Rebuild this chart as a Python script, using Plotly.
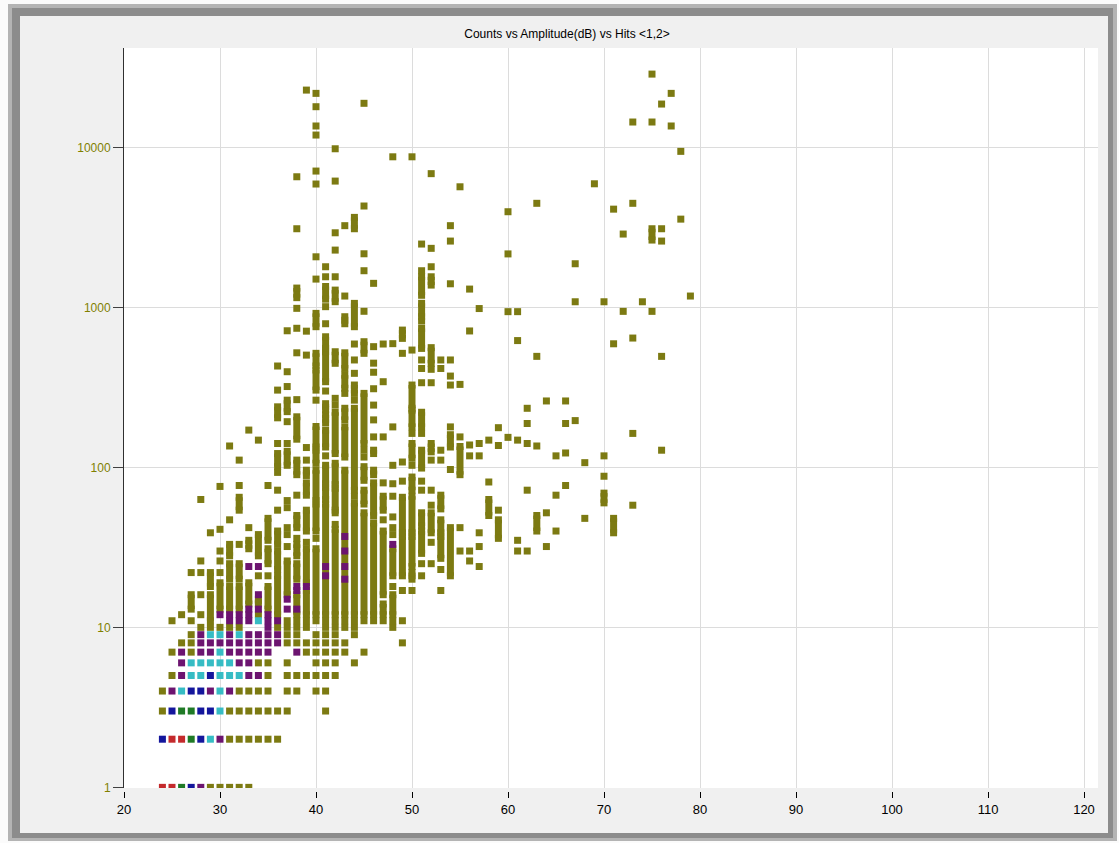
import plotly.graph_objects as go

title_text = "Counts vs Amplitude(dB) vs Hits <1,2>"
x_ticks = [20, 30, 40, 50, 60, 70, 80, 90, 100, 110, 120]
y_ticks = [1, 10, 100, 1000, 10000]
y_tick_labels = ["1", "10", "100", "1000", "10000"]

# Cells hit once: isolated counts per amplitude (dB)
olive_points = {
    24: [3, 4], 25: [5, 7, 11], 26: [8, 12], 27: [7, 8, 9, 11, 22],
    28: [10, 12, 16, 22, 26, 63], 29: [1, 10, 39], 30: [1, 10, 22, 26, 30, 41, 76],
    31: [1, 2, 3, 10, 47, 136], 32: [1, 2, 3, 4, 10, 33, 77, 111],
    33: [1, 2, 3, 4, 42, 171], 34: [2, 3, 4, 6, 12, 21, 148],
    35: [2, 3, 4, 5, 6, 21, 77], 36: [2, 3, 10, 54, 72, 93, 141, 304, 430],
    37: [3, 4, 5, 6, 8, 9, 10, 11, 32, 38, 42, 56, 62, 141, 193, 320, 396, 714],
    38: [4, 5, 8, 9, 10, 11, 36, 67, 265, 520, 740, 986, 3100, 6550],
    39: [5, 7, 8, 10, 11, 34, 111, 133, 503, 710, 22800],
    40: [4, 5, 6, 7, 8, 9, 11, 36, 263, 1502, 2070, 5900, 7110, 11940, 13600, 17950, 21750],
    41: [3, 4, 5, 6, 7, 8, 9, 10, 11, 118, 300, 790, 1010, 1553, 1794],
    42: [5, 6, 7, 8, 9, 10, 11, 44, 52, 245, 270, 1553, 2280, 2925, 6155, 9800],
    43: [7, 8, 10, 11, 290, 1177, 3240],
    44: [6, 9, 10, 11, 66, 263, 387, 469, 590],
    45: [7, 11, 116, 128, 945, 1694, 2162, 4300, 18850],
    46: [11, 122, 128, 155, 198, 245, 310, 393, 448, 568, 1413],
    47: [11, 47, 80, 155, 343, 590],
    48: [10, 11, 18, 38, 42, 49, 66, 79, 103, 179, 593, 8730],
    49: [8, 11, 17, 82, 108, 516],
    50: [17, 103, 163, 541, 8730],
    51: [21, 25, 72, 82, 163, 338, 415, 469, 821, 1694, 2487],
    52: [25, 34, 58, 72, 111, 338, 410, 1794, 2338, 6850],
    53: [17, 23, 111, 128, 415, 469],
    54: [97, 179, 327, 372, 469, 1404, 2596, 3240],
    55: [30, 42, 155, 330, 5670], 56: [26, 30, 118, 138, 712, 1301],
    57: [24, 32, 39, 118, 141, 983], 58: [81, 148], 59: [54, 137, 177],
    60: [154, 940, 2158, 3960], 61: [30, 35, 148, 620, 940],
    62: [30, 72, 141, 188, 234], 63: [136, 494, 4470], 64: [32, 52, 260],
    65: [40, 67, 118], 66: [77, 123, 188, 260], 67: [196, 1084, 1873],
    68: [48, 107], 69: [5920], 70: [88, 118, 1084], 71: [592, 4110],
    72: [944, 2872], 73: [58, 163, 643, 4470, 14400], 74: [1084],
    75: [944, 14400, 28700], 76: [128, 494, 2596, 3100, 18650],
    77: [13600, 21750], 78: [3560, 9440], 79: [1177],
}

# Cells hit once: unbroken stacks of consecutive counts (first, last)
olive_runs = {
    27: [(13, 16)], 29: [(11, 16), (18, 22)], 30: [(13, 19)],
    31: [(13, 18), (20, 25), (28, 33)], 32: [(13, 18), (20, 25), (54, 65)],
    33: [(14, 19), (31, 35)], 34: [(14, 15), (28, 38)],
    35: [(13, 18), (25, 31), (35, 48)],
    36: [(12, 21), (23, 30), (33, 40), (101, 122), (204, 239)],
    37: [(16, 26), (103, 126), (223, 263)],
    38: [(12, 16), (20, 25), (28, 33), (42, 50), (90, 111), (150, 207), (1150, 1320)],
    39: [(12, 17), (19, 31), (40, 54), (67, 80), (89, 96)],
    40: [(12, 31), (40, 59), (62, 96), (106, 128), (134, 180), (304, 406), (430, 516), (757, 917)],
    41: [(12, 59), (63, 75), (79, 103), (134, 171), (190, 213), (229, 250), (343, 528), (554, 655), (1125, 1350)],
    42: [(12, 41), (54, 74), (78, 106), (122, 221), (447, 528), (1085, 1282)],
    43: [(12, 96), (116, 179), (198, 234), (312, 377), (415, 520), (790, 874)],
    44: [(12, 60), (72, 234), (290, 327), (757, 1059), (3100, 3650)],
    45: [(12, 52), (59, 72), (83, 101), (141, 290), (516, 610)],
    46: [(12, 45), (50, 80), (90, 96)],
    47: [(12, 14), (16, 40), (54, 66)],
    48: [(12, 16), (21, 31)],
    49: [(21, 37), (39, 65), (640, 721)],
    50: [(20, 22), (24, 37), (39, 66), (72, 87), (114, 141), (179, 228), (234, 327)],
    51: [(29, 40), (43, 52), (99, 128), (179, 221), (554, 739), (874, 1060), (1190, 1553)],
    52: [(39, 52), (125, 141), (447, 560), (1378, 1553)],
    53: [(27, 37), (39, 47), (55, 67)],
    54: [(21, 42), (134, 160)], 55: [(90, 135)], 58: [(50, 63)], 59: [(36, 47)],
    63: [(40, 50)], 70: [(60, 69)], 71: [(39, 48)], 75: [(2634, 3100)],
}

# Cells with more hits, from 2 hits up to the most-hit cells
purple_points = {
    25: [4], 26: [5, 6, 7], 28: [1, 7, 8, 9], 29: [4, 7, 8], 30: [2, 8, 12],
    31: [4, 7, 8, 9, 11, 12], 32: [6, 7, 8, 11, 12],
    33: [5, 6, 7, 8, 9, 11, 12, 13, 24], 34: [5, 7, 8, 9, 13, 16, 24],
    35: [7, 8, 9, 10, 11, 12], 36: [8, 9, 11], 37: [13, 15],
    38: [7, 13, 17, 18], 39: [18], 41: [21, 24], 43: [20, 24, 30, 37], 48: [33],
}
cyan_points = {
    26: [4], 27: [5, 6], 28: [5, 6], 29: [2, 6, 9], 30: [3, 4, 5, 6, 7, 9],
    31: [5, 6], 32: [5, 9], 34: [11],
}
blue_points = {24: [2], 25: [3], 27: [1, 4], 28: [2, 3, 4], 29: [3, 5]}
green_points = {26: [1, 3], 27: [2, 3]}
red_points = {24: [1], 25: [1, 2], 26: [2]}

hit_colors = {
    "olive": "#7c7a12",
    "purple": "#6c1470",
    "cyan": "#36bcc4",
    "blue": "#14169c",
    "green": "#1f7a26",
    "red": "#c42a2c",
}

# Pixel layout of the window and the plotting area
W, H = 1119, 843
PL, PR, PT, PB = 124, 1098, 48, 800      # margins box
AX_BOTTOM = 788                           # bottom edge of the plotting area
Y_DOMAIN0 = (PB - AX_BOTTOM) / (PB - PT)


def fx(xp):
    return (xp - PL) / (PR - PL)


def fy(yp):
    return (PB - yp) / (PB - PT)


fig = go.Figure()


def add_cells(points, runs, color):
    lx, ly, mx, my = [], [], [], []
    for amp, spans in runs.items():
        for lo, hi in spans:
            lx += [amp, amp, None]
            ly += [lo, hi, None]
            mx += [amp, amp]
            my += [lo, hi]
    for amp, counts in points.items():
        for c in counts:
            mx.append(amp)
            my.append(c)
    if lx:
        fig.add_trace(go.Scatter(x=lx, y=ly, mode="lines",
                                 line=dict(color=color, width=7),
                                 hoverinfo="skip", showlegend=False))
    fig.add_trace(go.Scatter(x=mx, y=my, mode="markers",
                             marker=dict(symbol="square", size=7, color=color,
                                         line=dict(width=0)),
                             showlegend=False))


add_cells(olive_points, olive_runs, hit_colors["olive"])
add_cells(purple_points, {}, hit_colors["purple"])
add_cells(cyan_points, {}, hit_colors["cyan"])
add_cells(blue_points, {}, hit_colors["blue"])
add_cells(green_points, {}, hit_colors["green"])
add_cells(red_points, {}, hit_colors["red"])

x_max = 20 + (PR - 124) / 9.6
grid_col = "#dcdcdc"

# window frame and plotting area, drawn underneath the grid
shapes = [
    dict(type="rect", xref="paper", yref="paper", x0=fx(0), x1=fx(W), y0=fy(H), y1=fy(0),
         fillcolor="#fbfbfb", line=dict(width=0), layer="below"),
    dict(type="rect", xref="paper", yref="paper", x0=fx(8), x1=fx(1117), y0=fy(841), y1=fy(4),
         fillcolor="#b4b4b4", line=dict(width=0), layer="below"),
    dict(type="rect", xref="paper", yref="paper", x0=fx(12), x1=fx(1113), y0=fy(838), y1=fy(8),
         fillcolor="#8c8c8c", line=dict(width=0), layer="below"),
    dict(type="rect", xref="paper", yref="paper", x0=fx(20), x1=fx(1108), y0=fy(833), y1=fy(16),
         fillcolor="#f0f0f0", line=dict(width=0), layer="below"),
    dict(type="rect", xref="paper", yref="paper", x0=fx(124), x1=fx(PR), y0=fy(AX_BOTTOM), y1=fy(PT),
         fillcolor="#ffffff", line=dict(width=0), layer="below"),
]

fig.update_layout(
    width=W, height=H,
    margin=dict(l=PL, r=W - PR, t=PT, b=H - PB, pad=0),
    paper_bgcolor="#ffffff",
    plot_bgcolor="#ffffff",
    font=dict(family="Liberation Sans, Arial, sans-serif", color="#000000"),
    title=dict(text=title_text, x=567 / W, xanchor="center", y=1 - 34 / H, yanchor="middle",
               font=dict(size=12, color="#000000")),
    showlegend=False,
    shapes=shapes,
    xaxis=dict(range=[20, x_max], tickvals=x_ticks, showticklabels=False, ticks="",
               showgrid=True, gridcolor=grid_col, gridwidth=1, zeroline=False,
               showline=False, anchor="y"),
    xaxis2=dict(range=[20, x_max], overlaying="x", anchor="free", position=fy(791),
                tickvals=x_ticks, ticktext=[str(v) for v in x_ticks], ticks="outside",
                ticklen=6, tickwidth=1, tickcolor="#000000", showgrid=False, zeroline=False,
                showline=False, tickfont=dict(size=13, color="#000000"), side="bottom"),
    yaxis=dict(type="log", range=[-0.004, 4.621], domain=[Y_DOMAIN0, 1],
               tickvals=y_ticks, ticktext=y_tick_labels, ticks="outside", ticklen=10,
               tickcolor="#404040", showline=True, linecolor="#303030", linewidth=1,
               showgrid=True, gridcolor=grid_col, gridwidth=1, zeroline=False,
               tickfont=dict(size=12, color="#808000")),
)

# an empty trace on the lower axis so it gets drawn
fig.add_trace(go.Scatter(x=[20], y=[1], xaxis="x2", yaxis="y", mode="markers",
                         marker=dict(opacity=0), hoverinfo="skip", showlegend=False))

fig.write_html("out.html")
